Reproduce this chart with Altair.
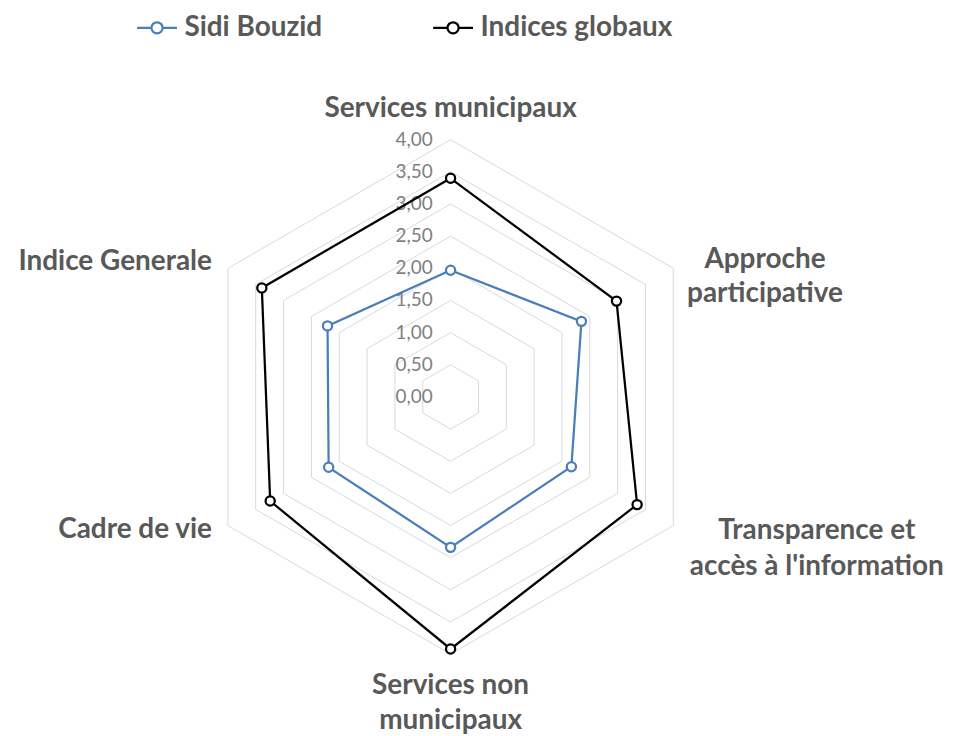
import altair as alt
import pandas as pd

# ---------------- data ----------------
categories = [
    "Services municipaux",
    "Approche\nparticipative",
    "Transparence et\naccès à l'information",
    "Services non\nmunicipaux",
    "Cadre de vie",
    "Indice Generale",
]
series_names = ["Sidi Bouzid", "Indices globaux"]
sidi_bouzid = [1.97, 2.35, 2.17, 2.34, 2.19, 2.21]
indices_globaux = [3.40, 2.98, 3.35, 3.92, 3.24, 3.39]
ring_values = [0.5, 1.0, 1.5, 2.0, 2.5, 3.0, 3.5, 4.0]
tick_values = [0.0, 0.5, 1.0, 1.5, 2.0, 2.5, 3.0, 3.5, 4.0]
tick_labels = ["0,00", "0,50", "1,00", "1,50", "2,00", "2,50", "3,00", "3,50", "4,00"]
series_colors = ["#4a7ebb", "#000000"]

# ---------------- layout (pixels) ----------------
W, H = 940, 728
CX, CY = 452 - 8, 397 - 8      # centre inside plot area
PX = 64.5                      # pixels per unit
XDOM = [-CX / PX, (W - CX) / PX]
YDOM = [-(H - CY) / PX, CY / PX]
N = len(categories)

# ---------------- tables ----------------
series_rows = []
for name, vals in zip(series_names, [sidi_bouzid, indices_globaux]):
    for i in range(N + 1):
        series_rows.append({"series": name, "idx": i, "value": vals[i % N]})
series_df = pd.DataFrame(series_rows)

grid_df = pd.DataFrame(
    [{"ring": r, "idx": i, "value": r} for r in ring_values for i in range(N + 1)]
)
tick_df = pd.DataFrame({"value": tick_values, "label": tick_labels})
label_df = pd.DataFrame(
    {"idx": list(range(N)), "label": categories, "value": [max(ring_values)] * N}
)

ang = "PI/2 - datum.idx*PI/3"
xs = alt.Scale(domain=XDOM, nice=False, zero=False)
ys = alt.Scale(domain=YDOM, nice=False, zero=False)


def polar(ch):
    return ch.transform_calculate(ang=ang).transform_calculate(
        px="datum.value*cos(datum.ang)", py="datum.value*sin(datum.ang)"
    )


X = alt.X("px:Q", scale=xs, axis=None)
Y = alt.Y("py:Q", scale=ys, axis=None)

grid = polar(alt.Chart(grid_df)).mark_line(color="#d9d9d9", strokeWidth=1).encode(
    x=X, y=Y, detail="ring:N", order="idx:Q"
)

ticks = (
    alt.Chart(tick_df)
    .transform_calculate(px="0", py="datum.value")
    .mark_text(align="right", baseline="middle", dx=-18, font="Lato",
               fontSize=19, color="#7f7f7f")
    .encode(x=X, y=Y, text="label:N")
)

color_scale = alt.Scale(domain=series_names, range=series_colors)
legend_shape = ("M-1,0L-0.28,0M0.28,0L1,0"
                "M-0.28,0A0.28,0.28 0 1,1 0.28,0A0.28,0.28 0 1,1 -0.28,0Z")

lines = polar(alt.Chart(series_df)).mark_line(strokeWidth=2.25).encode(
    x=X, y=Y, order="idx:Q",
    color=alt.Color(
        "series:N", scale=color_scale,
        legend=alt.Legend(
            title=None, orient="none", direction="horizontal",
            legendX=128, legendY=-3, padding=0,
            symbolType=legend_shape, symbolSize=1600, symbolStrokeWidth=2.25,
            symbolFillColor="white", labelFont="Lato", labelFontSize=28,
            labelFontWeight="bold", labelColor="#595959", labelOffset=6,
            labelLimit=400, columnPadding=106,
        ),
    ),
)

points = (
    polar(alt.Chart(series_df))
    .transform_filter("datum.idx < 6")
    .mark_point(shape="circle", filled=True, fill="white", size=85, strokeWidth=2.25,
                opacity=1)
    .encode(x=X, y=Y, stroke=alt.Stroke("series:N", scale=color_scale, legend=None))
)

label_specs = [
    dict(align="center", baseline="alphabetic", dx=0, dy=-23),
    dict(align="center", baseline="middle", dx=92, dy=-8, lineHeight=34),
    dict(align="center", baseline="middle", dx=144, dy=6, lineHeight=36),
    dict(align="center", baseline="top", dx=0, dy=18, lineHeight=35),
    dict(align="right", baseline="middle", dx=-16, dy=5),
    dict(align="right", baseline="middle", dx=-16, dy=-6),
]
label_layers = []
for i, spec in enumerate(label_specs):
    label_layers.append(
        polar(alt.Chart(label_df).transform_filter(f"datum.idx == {i}"))
        .mark_text(font="Lato", fontSize=28, fontWeight="bold", color="#595959",
                   lineBreak="\n", **spec)
        .encode(x=X, y=Y, text="label:N")
    )

chart = (
    alt.layer(grid, ticks, lines, points, *label_layers)
    .properties(width=W, height=H, autosize=alt.AutoSizeParams(type="none"),
                padding=0, background="white")
    .configure_view(stroke=None)
)

chart.save("out.html", embed_options={"renderer": "svg", "actions": False})
